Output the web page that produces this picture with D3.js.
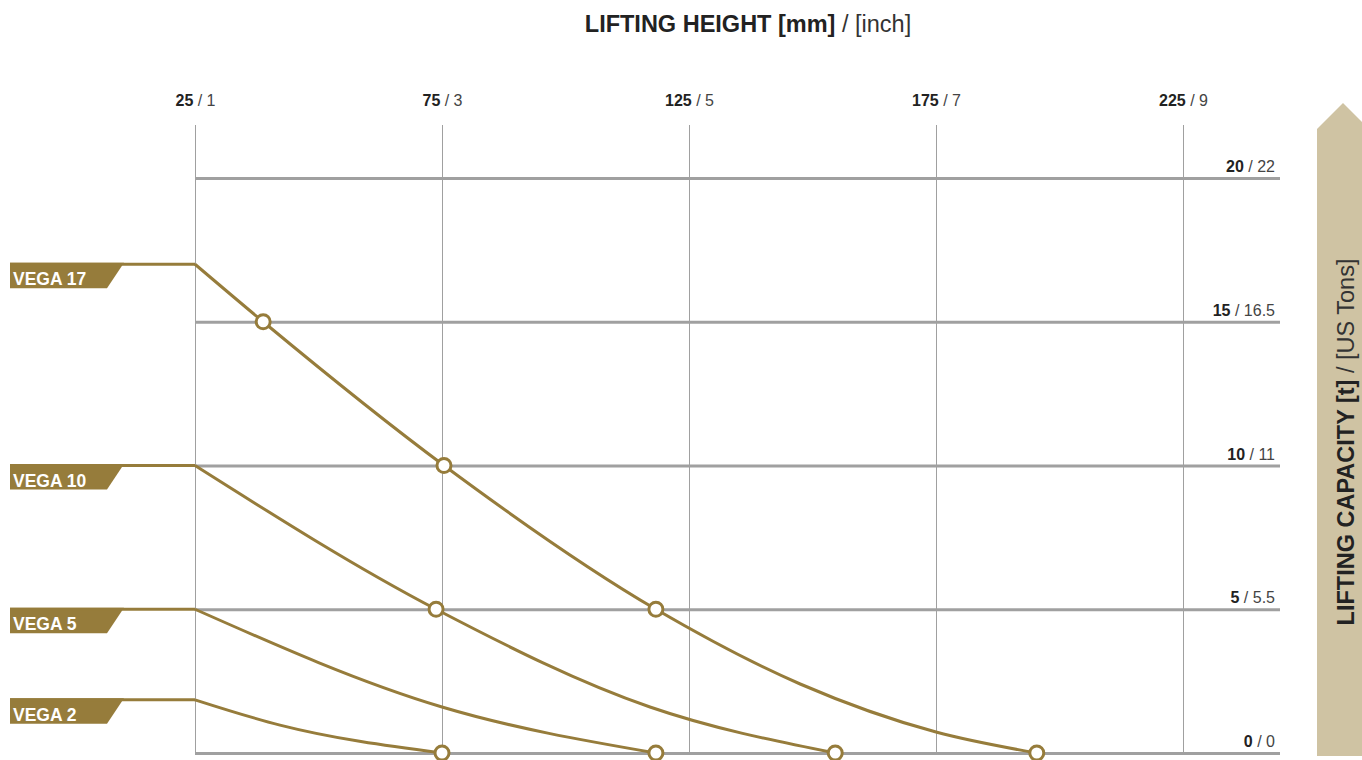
<!DOCTYPE html>
<html>
<head>
<meta charset="utf-8">
<script src="https://cdn.jsdelivr.net/npm/d3@7"></script>
<style>
  body { margin: 0; background: #fff; }
  svg { display: block; font-family: "Liberation Sans", Arial, sans-serif; }
</style>
</head>
<body>
<div id="chart"></div>
<script>
// lifting height ticks (mm / inch) and capacity ticks (t / US tons)
var heightMm = [25, 75, 125, 175, 225];
var heightInch = ['1', '3', '5', '7', '9'];
var capT = [0, 5, 10, 15, 20];
var capUs = ['0', '5.5', '11', '16.5', '22'];

var models = ['VEGA 17', 'VEGA 10', 'VEGA 5', 'VEGA 2'];

// curve points [mm, t]
var vega17 = [[25, 17], [38.8, 15], [75.4, 10], [118.3, 5], [147.5, 2.4], [175, 0.73], [195.4, 0]];
var vega10 = [[25, 10], [73.8, 5], [117.1, 1.6], [154.6, 0]];
var vega5 = [[25, 5], [75, 1.6], [118.3, 0]];
var vega2 = [[25, 1.85], [42.2, 0.97], [75, 0]];
var curves = [vega17, vega10, vega5, vega2];

// circle markers [mm, t]
var markers17 = [[38.8, 15], [75.4, 10], [118.3, 5], [195.4, 0]];
var markers10 = [[73.8, 5], [154.6, 0]];
var markers5 = [[118.3, 0]];
var markers2 = [[75, 0]];
var markers = [markers17, markers10, markers5, markers2];

var gold = '#967c3b';
var grid = '#a0a0a0';

var svg = d3.select('#chart')
  .append('svg')
  .attr('width', 1362)
  .attr('height', 760);

var x = d3.scaleLinear().domain([25, 225]).range([195, 1183]);
var y = d3.scaleLinear().domain([0, 20]).range([753, 178]);

// title
var title = svg.append('text')
  .attr('x', 748)
  .attr('y', 32)
  .attr('text-anchor', 'middle')
  .attr('font-size', '23.5px')
  .attr('fill', '#222');
title.append('tspan').attr('font-weight', 'bold').text('LIFTING HEIGHT [mm]');
title.append('tspan').text(' / [inch]').attr('fill', '#333');

// vertical grid + top labels
var xAxis = svg.append('g')
  .attr('transform', 'translate(0,125)')
  .call(d3.axisTop(x).tickValues(heightMm).tickSize(-(755 - 125)).tickPadding(19));
xAxis.select('.domain').remove();
xAxis.selectAll('line').attr('stroke', grid).attr('stroke-width', 1);
xAxis.selectAll('text').each(function(d, i) {
  var t = d3.select(this).text('').attr('font-size', '16px').attr('fill', '#222');
  t.append('tspan').attr('font-weight', 'bold').text(d);
  t.append('tspan').attr('fill', '#444').text(' / ' + heightInch[i]);
});

// horizontal grid + right labels
var yAxis = svg.append('g')
  .attr('transform', 'translate(195,0)')
  .call(d3.axisRight(y).tickValues(capT).tickSize(1280 - 195));
yAxis.select('.domain').remove();
yAxis.selectAll('line').attr('stroke', grid).attr('stroke-width', 3);
yAxis.selectAll('text').each(function(d, i) {
  var t = d3.select(this).text('')
    .attr('x', 1080).attr('dy', '-0.4em')
    .attr('text-anchor', 'end')
    .attr('font-size', '16px').attr('fill', '#222');
  t.append('tspan').attr('font-weight', 'bold').text(d);
  t.append('tspan').attr('fill', '#444').text(' / ' + capUs[i]);
});

// arrow on the right
svg.append('path')
  .attr('d', 'M1317,756 L1317,129 L1343,103 L1369,129 L1369,756 Z')
  .attr('fill', '#cfc3a3');

var yTitle = svg.append('text')
  .attr('transform', 'translate(1354,442) rotate(-90)')
  .attr('text-anchor', 'middle')
  .attr('font-size', '23.5px')
  .attr('fill', '#222');
yTitle.append('tspan').attr('font-weight', 'bold').text('LIFTING CAPACITY [t]');
yTitle.append('tspan').attr('fill', '#333').text(' / [US Tons]');

var line = d3.line()
  .x(function(d) { return x(d[0]); })
  .y(function(d) { return y(d[1]); })
  .curve(d3.curveMonotoneX);

models.forEach(function(name, i) {
  var pts = curves[i];
  var y0 = y(pts[0][1]);

  // label tag
  svg.append('path')
    .attr('d', 'M10,' + (y0 - 1.5) + ' L124,' + (y0 - 1.5) + ' L107,' + (y0 + 24) + ' L10,' + (y0 + 24) + ' Z')
    .attr('fill', gold);
  svg.append('text')
    .attr('x', 13)
    .attr('y', y0 + 21)
    .attr('font-size', '17.5px')
    .attr('font-weight', 'bold')
    .attr('fill', '#fff')
    .text(name);

  // flat lead-in
  svg.append('line')
    .attr('x1', 10).attr('x2', x(pts[0][0]))
    .attr('y1', y0).attr('y2', y0)
    .attr('stroke', gold).attr('stroke-width', 3);

  svg.append('path')
    .datum(pts)
    .attr('d', line)
    .attr('fill', 'none')
    .attr('stroke', gold)
    .attr('stroke-width', 3);

  svg.selectAll('.m' + i)
    .data(markers[i])
    .enter()
    .append('circle')
    .attr('class', 'm' + i)
    .attr('cx', function(d) { return x(d[0]); })
    .attr('cy', function(d) { return y(d[1]); })
    .attr('r', 7)
    .attr('fill', '#fff')
    .attr('stroke', gold)
    .attr('stroke-width', 3);
});
</script>
</body>
</html>
